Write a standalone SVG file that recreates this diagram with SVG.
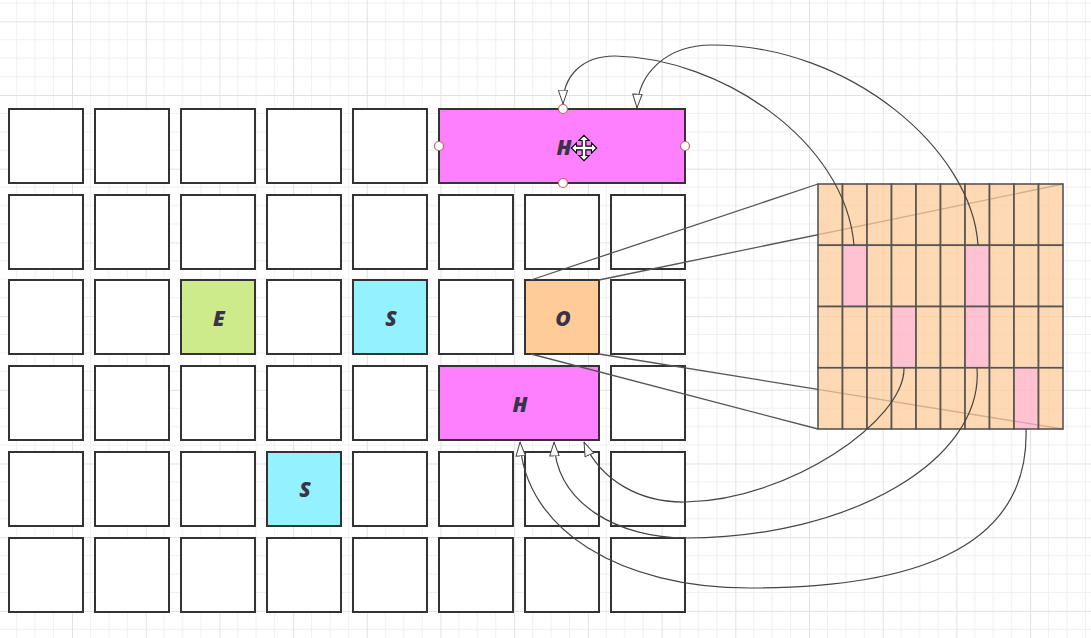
<svg xmlns="http://www.w3.org/2000/svg" width="1091" height="638" viewBox="0 0 1091 638">
<defs>
<pattern id="bg" x="-1.7" y="21.3" width="73.7" height="73.7" patternUnits="userSpaceOnUse">
<path d="M18.425 0V73.7M36.85 0V73.7M55.275 0V73.7M0 18.425H73.7M0 36.85H73.7M0 55.275H73.7" stroke="#f0f0f0" stroke-width="1" fill="none"/>
<path d="M0.5 0V73.7M0 0.5H73.7" stroke="#e2e2e2" stroke-width="1" fill="none"/>
</pattern>
<marker id="arr" viewBox="0 0 15 11" refX="14.5" refY="5.5" markerWidth="15" markerHeight="11" markerUnits="userSpaceOnUse" orient="auto">
<path d="M0.6 0.8 L14.4 5.5 L0.6 10.2 Z" fill="#fff" stroke="#444" stroke-width="1"/>
</marker>
<style>
.b{fill:#fff;stroke:#333;stroke-width:2}
.h{fill:#ff80ff;stroke:#333;stroke-width:2}
.e{fill:#cdeb8b;stroke:#333;stroke-width:2}
.s{fill:#94f2ff;stroke:#333;stroke-width:2}
.o{fill:#ffcc99;stroke:#333;stroke-width:2}
.t{font-family:"Open Sans","Liberation Sans",sans-serif;font-weight:800;font-style:italic;font-size:21px;fill:#3a3346;text-anchor:middle;dominant-baseline:central}
.c{fill:#ffcc99;fill-opacity:0.75;stroke:#555;stroke-width:1.6}
.p{fill:#ffb3c6;fill-opacity:0.8;stroke:#555;stroke-width:1.6}
.ln{fill:none;stroke:#555;stroke-width:1.3}
.cv{fill:none;stroke:#444;stroke-width:1.2}
.hd{fill:#fff;stroke:#c06060;stroke-width:1.2}
</style>
</defs>
<rect width="1091" height="638" fill="#fff"/>
<rect width="1091" height="638" fill="url(#bg)"/>

<g id="row0">
<rect class="b" x="9" y="109" width="74" height="74"/>
<rect class="b" x="95" y="109" width="74" height="74"/>
<rect class="b" x="181" y="109" width="74" height="74"/>
<rect class="b" x="267" y="109" width="74" height="74"/>
<rect class="b" x="353" y="109" width="74" height="74"/>
</g>
<g id="node-H-top">
<rect class="h" x="439" y="109" width="246" height="74"/>
<text class="t" x="564" y="147">H</text>
</g>
<g id="row1">
<rect class="b" x="9" y="195" width="74" height="74"/>
<rect class="b" x="95" y="195" width="74" height="74"/>
<rect class="b" x="181" y="195" width="74" height="74"/>
<rect class="b" x="267" y="195" width="74" height="74"/>
<rect class="b" x="353" y="195" width="74" height="74"/>
<rect class="b" x="439" y="195" width="74" height="74"/>
<rect class="b" x="525" y="195" width="74" height="74"/>
<rect class="b" x="611" y="195" width="74" height="74"/>
</g>
<g id="row2">
<rect class="b" x="9" y="280" width="74" height="74"/>
<rect class="b" x="95" y="280" width="74" height="74"/>
<rect class="b" x="267" y="280" width="74" height="74"/>
<rect class="b" x="439" y="280" width="74" height="74"/>
<rect class="b" x="611" y="280" width="74" height="74"/>
</g>
<g id="node-E">
<rect class="e" x="181" y="280" width="74" height="74"/>
<text class="t" x="219" y="318">E</text>
</g>
<g id="node-S1">
<rect class="s" x="353" y="280" width="74" height="74"/>
<text class="t" x="391" y="318">S</text>
</g>
<g id="node-O">
<rect class="o" x="525" y="280" width="74" height="74"/>
<text class="t" x="563" y="318">O</text>
</g>
<g id="row3">
<rect class="b" x="9" y="366" width="74" height="74"/>
<rect class="b" x="95" y="366" width="74" height="74"/>
<rect class="b" x="181" y="366" width="74" height="74"/>
<rect class="b" x="267" y="366" width="74" height="74"/>
<rect class="b" x="353" y="366" width="74" height="74"/>
<rect class="b" x="611" y="366" width="74" height="74"/>
</g>
<g id="node-H-bottom">
<rect class="h" x="439" y="366" width="160" height="74"/>
<text class="t" x="520" y="404">H</text>
</g>
<g id="row4">
<rect class="b" x="9" y="452" width="74" height="74"/>
<rect class="b" x="95" y="452" width="74" height="74"/>
<rect class="b" x="181" y="452" width="74" height="74"/>
<rect class="b" x="353" y="452" width="74" height="74"/>
<rect class="b" x="439" y="452" width="74" height="74"/>
<rect class="b" x="525" y="452" width="74" height="74"/>
<rect class="b" x="611" y="452" width="74" height="74"/>
</g>
<g id="node-S2">
<rect class="s" x="267" y="452" width="74" height="74"/>
<text class="t" x="305" y="489">S</text>
</g>
<g id="row5">
<rect class="b" x="9" y="538" width="74" height="74"/>
<rect class="b" x="95" y="538" width="74" height="74"/>
<rect class="b" x="181" y="538" width="74" height="74"/>
<rect class="b" x="267" y="538" width="74" height="74"/>
<rect class="b" x="353" y="538" width="74" height="74"/>
<rect class="b" x="439" y="538" width="74" height="74"/>
<rect class="b" x="525" y="538" width="74" height="74"/>
<rect class="b" x="611" y="538" width="74" height="74"/>
</g>

<g id="zoom-lines">
<path class="ln" d="M531 280 L818 184"/>
<path class="ln" d="M599 280 L1063 184"/>
<path class="ln" d="M531 354 L818 429"/>
<path class="ln" d="M599 354 L1063 429"/>
</g>

<g id="node-grid">
<g>
<rect class="c" x="818" y="184" width="24.5" height="61.25"/>
<rect class="c" x="842.5" y="184" width="24.5" height="61.25"/>
<rect class="c" x="867" y="184" width="24.5" height="61.25"/>
<rect class="c" x="891.5" y="184" width="24.5" height="61.25"/>
<rect class="c" x="916" y="184" width="24.5" height="61.25"/>
<rect class="c" x="940.5" y="184" width="24.5" height="61.25"/>
<rect class="c" x="965" y="184" width="24.5" height="61.25"/>
<rect class="c" x="989.5" y="184" width="24.5" height="61.25"/>
<rect class="c" x="1014" y="184" width="24.5" height="61.25"/>
<rect class="c" x="1038.5" y="184" width="24.5" height="61.25"/>
</g>
<g>
<rect class="c" x="818" y="245.25" width="24.5" height="61.25"/>
<rect class="p" x="842.5" y="245.25" width="24.5" height="61.25"/>
<rect class="c" x="867" y="245.25" width="24.5" height="61.25"/>
<rect class="c" x="891.5" y="245.25" width="24.5" height="61.25"/>
<rect class="c" x="916" y="245.25" width="24.5" height="61.25"/>
<rect class="c" x="940.5" y="245.25" width="24.5" height="61.25"/>
<rect class="p" x="965" y="245.25" width="24.5" height="61.25"/>
<rect class="c" x="989.5" y="245.25" width="24.5" height="61.25"/>
<rect class="c" x="1014" y="245.25" width="24.5" height="61.25"/>
<rect class="c" x="1038.5" y="245.25" width="24.5" height="61.25"/>
</g>
<g>
<rect class="c" x="818" y="306.5" width="24.5" height="61.25"/>
<rect class="c" x="842.5" y="306.5" width="24.5" height="61.25"/>
<rect class="c" x="867" y="306.5" width="24.5" height="61.25"/>
<rect class="p" x="891.5" y="306.5" width="24.5" height="61.25"/>
<rect class="c" x="916" y="306.5" width="24.5" height="61.25"/>
<rect class="c" x="940.5" y="306.5" width="24.5" height="61.25"/>
<rect class="p" x="965" y="306.5" width="24.5" height="61.25"/>
<rect class="c" x="989.5" y="306.5" width="24.5" height="61.25"/>
<rect class="c" x="1014" y="306.5" width="24.5" height="61.25"/>
<rect class="c" x="1038.5" y="306.5" width="24.5" height="61.25"/>
</g>
<g>
<rect class="c" x="818" y="367.75" width="24.5" height="61.25"/>
<rect class="c" x="842.5" y="367.75" width="24.5" height="61.25"/>
<rect class="c" x="867" y="367.75" width="24.5" height="61.25"/>
<rect class="c" x="891.5" y="367.75" width="24.5" height="61.25"/>
<rect class="c" x="916" y="367.75" width="24.5" height="61.25"/>
<rect class="c" x="940.5" y="367.75" width="24.5" height="61.25"/>
<rect class="c" x="965" y="367.75" width="24.5" height="61.25"/>
<rect class="c" x="989.5" y="367.75" width="24.5" height="61.25"/>
<rect class="p" x="1014" y="367.75" width="24.5" height="61.25"/>
<rect class="c" x="1038.5" y="367.75" width="24.5" height="61.25"/>
</g>
</g>

<g id="connectors">
<path class="cv" d="M854 245 C845 140 720 58 615 56 C580 56 563 78 563 104" marker-end="url(#arr)"/>
<path class="cv" d="M978 245 C972 150 850 45 712 45 C665 45 638 75 637 108" marker-end="url(#arr)"/>
<path class="cv" d="M904 368 C905 420 790 500 686 502 C640 503 600 480 584 442" marker-end="url(#arr)"/>
<path class="cv" d="M977 368 C984 460 850 538 686 538 C620 538 556 505 554 442" marker-end="url(#arr)"/>
<path class="cv" d="M1026 429 C1030 555 900 588 750 588 C620 588 525 530 520 442" marker-end="url(#arr)"/>
</g>

<g id="selection-handles">
<circle class="hd" cx="563" cy="109" r="4.5"/>
<circle class="hd" cx="563" cy="183" r="4.5"/>
<circle class="hd" cx="439" cy="146" r="4.5"/>
<circle class="hd" cx="685" cy="146" r="4.5"/>
</g>
<g id="cursor" transform="translate(584 148) scale(1.15)">
<polygon points="0,-11 4.5,-6.5 1.6,-6.5 1.6,-1.6 6.5,-1.6 6.5,-4.5 11,0 6.5,4.5 6.5,1.6 1.6,1.6 1.6,6.5 4.5,6.5 0,11 -4.5,6.5 -1.6,6.5 -1.6,1.6 -6.5,1.6 -6.5,4.5 -11,0 -6.5,-4.5 -6.5,-1.6 -1.6,-1.6 -1.6,-6.5 -4.5,-6.5" fill="#fff" stroke="#000" stroke-width="1"/>
</g>
</svg>
